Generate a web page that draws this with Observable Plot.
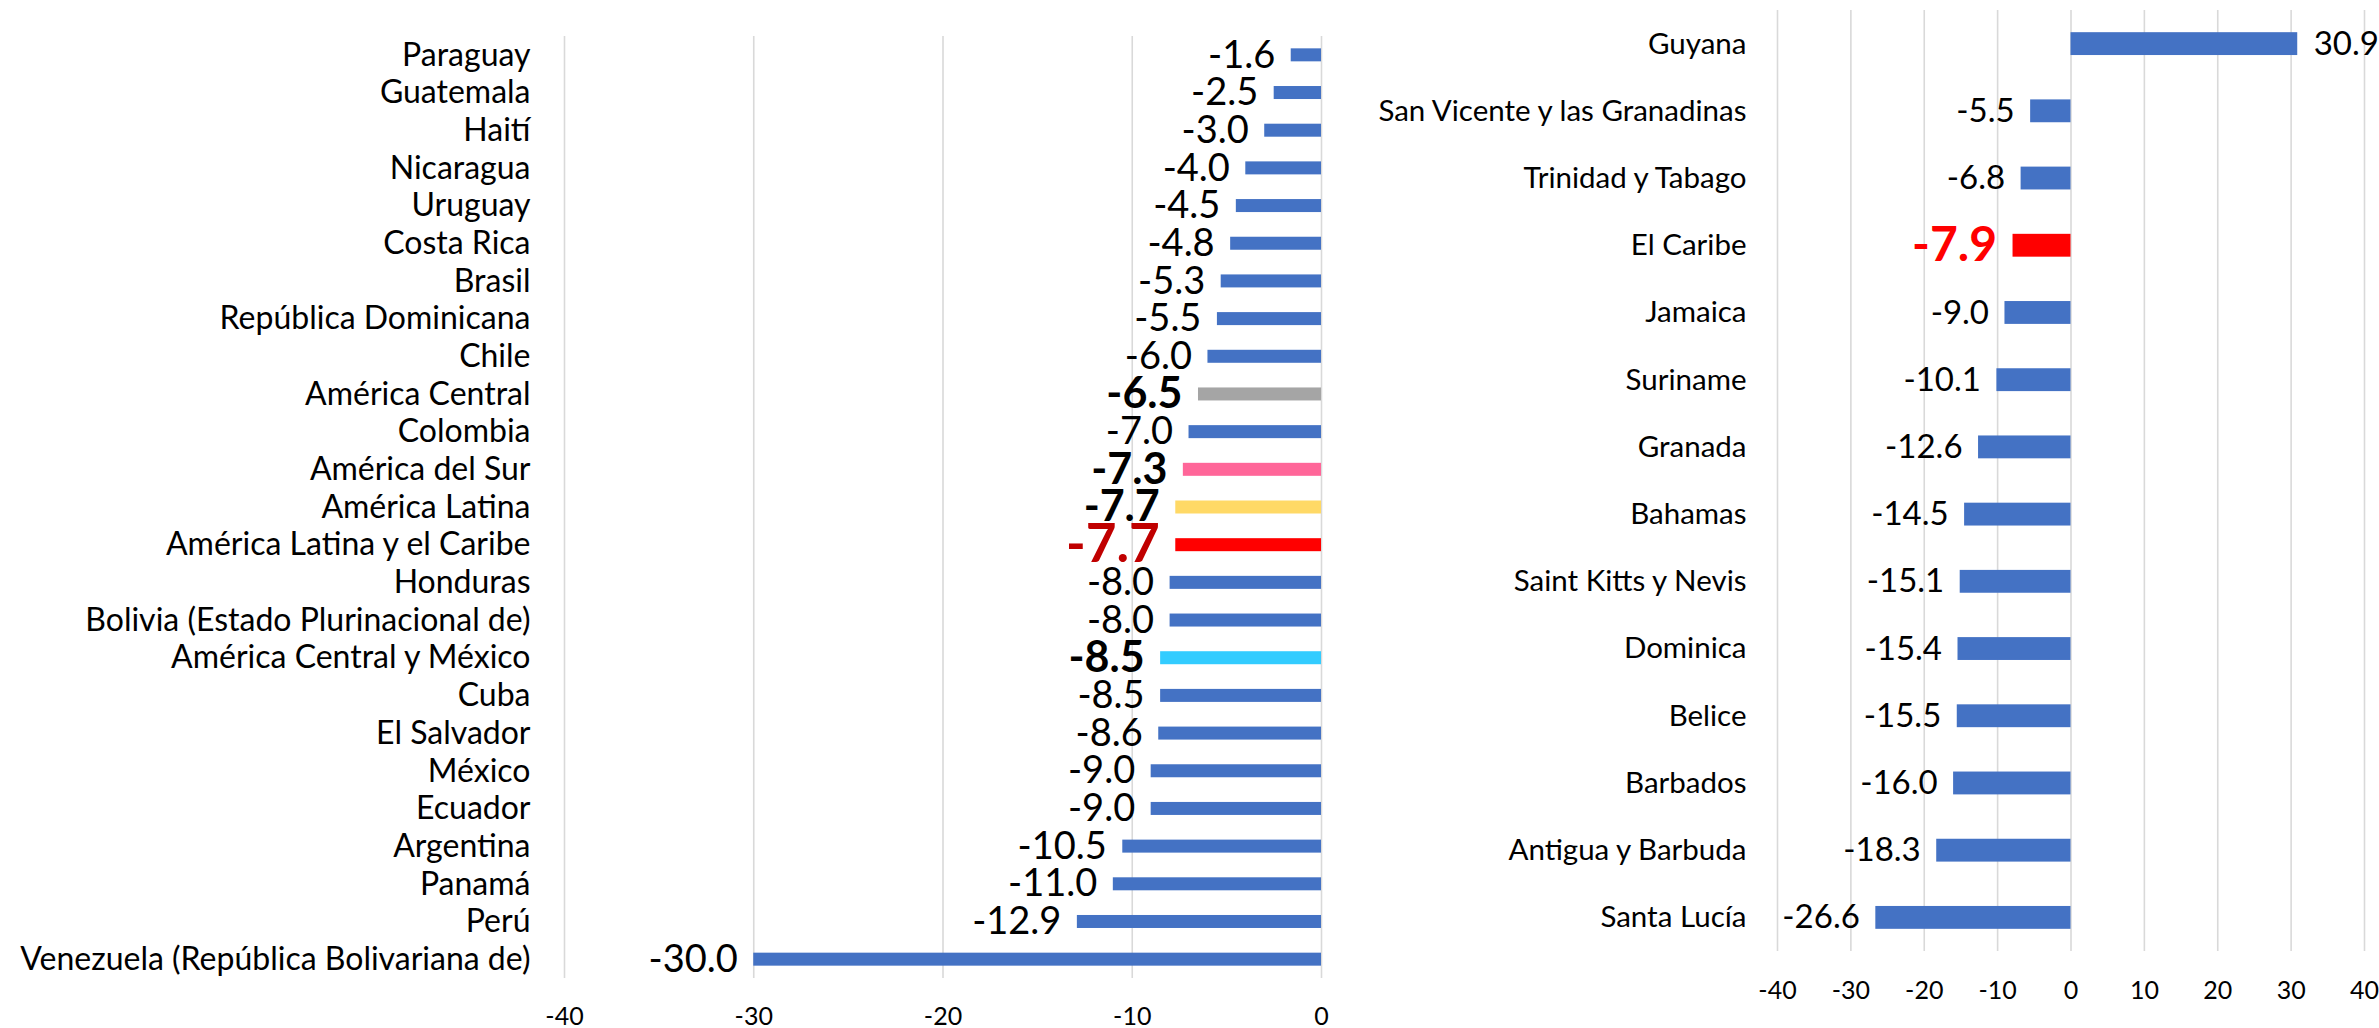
<!DOCTYPE html>
<html>
<head>
<meta charset="utf-8">
<script src="https://cdn.jsdelivr.net/npm/d3@7"></script>
<script src="https://cdn.jsdelivr.net/npm/@observablehq/plot@0.6"></script>
<style>
  html, body { margin: 0; padding: 0; background: #fff; }
  #wrap { position: relative; width: 2379px; height: 1028px; overflow: hidden; font-family: Lato, sans-serif; color: #000; }
  #left { position: absolute; left: 0; top: 0; }
  #right { position: absolute; left: 1340px; top: 0; }
  svg { overflow: visible; }
</style>
</head>
<body>
<div id="wrap"><div id="left"></div><div id="right"></div></div>
<script>
// ---- Data ----
const leftCountries = [
  "Paraguay", "Guatemala", "Haití", "Nicaragua", "Uruguay", "Costa Rica", "Brasil",
  "República Dominicana", "Chile", "América Central", "Colombia", "América del Sur",
  "América Latina", "América Latina y el Caribe", "Honduras",
  "Bolivia (Estado Plurinacional de)", "América Central y México", "Cuba", "El Salvador",
  "México", "Ecuador", "Argentina", "Panamá", "Perú", "Venezuela (República Bolivariana de)"
];
const leftValues = [
  -1.6, -2.5, -3.0, -4.0, -4.5, -4.8, -5.3, -5.5, -6.0, -6.5, -7.0, -7.3, -7.7, -7.7,
  -8.0, -8.0, -8.5, -8.5, -8.6, -9.0, -9.0, -10.5, -11.0, -12.9, -30.0
];
const rightCountries = [
  "Guyana", "San Vicente y las Granadinas", "Trinidad y Tabago", "El Caribe", "Jamaica",
  "Suriname", "Granada", "Bahamas", "Saint Kitts y Nevis", "Dominica", "Belice",
  "Barbados", "Antigua y Barbuda", "Santa Lucía"
];
const rightValues = [30.9, -5.5, -6.8, -7.9, -9.0, -10.1, -12.6, -14.5, -15.1, -15.4, -15.5, -16.0, -18.3, -26.6];
const leftTicks = [-40, -30, -20, -10, 0];
const rightTicks = [-40, -30, -20, -10, 0, 10, 20, 30, 40];

// ---- Styles (kept apart from data) ----
const BLUE = "#4472C4";
const barColor = {
  "América Central": "#A5A5A5",
  "América del Sur": "#FF6699",
  "América Latina": "#FFD966",
  "América Latina y el Caribe": "#FF0000",
  "América Central y México": "#33CCFF",
  "El Caribe": "#FF0000"
};
const boldBlack = new Set(["América Central", "América del Sur", "América Latina", "América Central y México"]);
const bigRed = { "América Latina y el Caribe": "#C00000", "El Caribe": "#FF0000" };

const leftData = leftCountries.map((name, i) => ({ name, value: leftValues[i] }));
const rightData = rightCountries.map((name, i) => ({ name, value: rightValues[i] }));
const fmt = v => v.toFixed(1);
const FONT = "Lato, sans-serif";

function chart(data, opts) {
  const regular = data.filter(d => !boldBlack.has(d.name) && !(d.name in bigRed));
  const bold = data.filter(d => boldBlack.has(d.name));
  const red = data.filter(d => d.name in bigRed);
  const textMarks = (arr, extra) => [
    Plot.text(arr.filter(d => d.value < 0), {
      x: "value", y: "name", text: d => fmt(d.value), textAnchor: "end", dx: -16, ...extra
    }),
    Plot.text(arr.filter(d => d.value >= 0), {
      x: "value", y: "name", text: d => fmt(d.value), textAnchor: "start", dx: 16, ...extra
    })
  ];
  return Plot.plot({
    width: opts.width,
    height: 1028,
    marginLeft: opts.marginLeft,
    marginRight: opts.marginRight,
    marginTop: opts.marginTop,
    marginBottom: opts.marginBottom,
    style: { fontFamily: FONT, color: "#000", background: "transparent" },
    x: { domain: opts.domain, ticks: opts.ticks },
    y: { domain: data.map(d => d.name), paddingInner: opts.padInner, paddingOuter: opts.padInner / 2, round: false },
    marks: [
      Plot.gridX(opts.ticks, { stroke: "#D9D9D9", strokeOpacity: 1, strokeWidth: 1.6 }),
      Plot.barX(data, { x: "value", y: "name", fill: d => barColor[d.name] || BLUE }),
      ...textMarks(regular, { fontSize: opts.valueSize, fill: "#000" }),
      ...textMarks(bold, { fontSize: opts.boldSize, fontWeight: "bold", fill: "#000" }),
      ...textMarks(red, { fontSize: opts.redSize, fontWeight: "bold", fill: d => bigRed[d.name] }),
      Plot.axisY({ tickSize: 0, tickPadding: opts.yPad, fontSize: opts.labelSize, label: null }),
      Plot.axisX({ ticks: opts.ticks, tickSize: 0, tickPadding: opts.xPad, fontSize: 25, label: null,
                   tickFormat: d => String(d) })
    ]
  });
}

document.getElementById("left").append(chart(leftData, {
  width: 1340, marginLeft: 564, marginRight: 19, marginTop: 36, marginBottom: 50,
  domain: [-40, 0], ticks: leftTicks, padInner: 0.655,
  valueSize: 38, boldSize: 43, redSize: 53, labelSize: 32, yPad: 34, xPad: 29
}));
document.getElementById("right").append(chart(rightData, {
  width: 1039, marginLeft: 437, marginRight: 15, marginTop: 10, marginBottom: 77,
  domain: [-40, 40], ticks: rightTicks, padInner: 0.66,
  valueSize: 33, boldSize: 36, redSize: 48, labelSize: 29.5, yPad: 31, xPad: 30
}));
</script>
</body>
</html>
